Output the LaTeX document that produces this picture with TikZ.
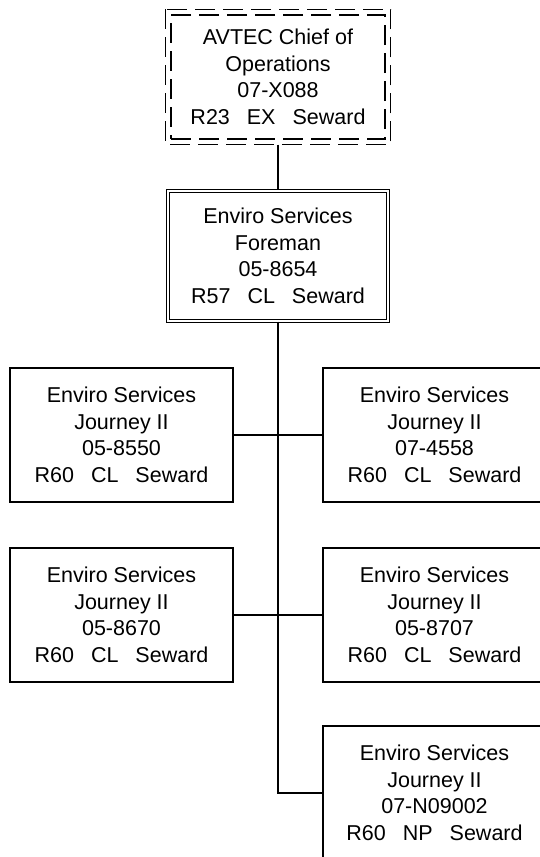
\documentclass[tikz,border=0pt]{standalone}
\usepackage{fontspec}
\setmainfont{Liberation Sans}
\newcommand{\fieldgap}{\hspace{17pt}}

\begin{document}
\begin{tikzpicture}[x=1pt,y=-1pt]

\tikzset{
  post box/.style={
    draw,
    line width=1.3pt,
    minimum width=223pt,
    minimum height=134pt,
    inner sep=0pt,
    align=center,
    font=\fontsize{21.5}{26.5}\selectfont,
  },
  chief box/.style={
    post box,
    dash pattern=on 20pt off 8pt,
    minimum width=214pt,
    minimum height=124pt,
  },
  lead box/.style={
    post box,
    double,
    line width=1.2pt,
    double distance=2.4pt,
    minimum width=220pt,
    minimum height=130pt,
  },
  link/.style={line width=1.3pt},
}

\clip (0,0) rectangle (540,857);

% Level 0
\node[chief box] (chief) at (278,77) {AVTEC Chief of\\Operations\\07-X088\\R23\fieldgap EX\fieldgap Seward};
\draw[line width=1.3pt, dash pattern=on 20pt off 8pt]
  ([xshift=-5pt,yshift=5pt]chief.north west) rectangle ([xshift=5pt,yshift=-5pt]chief.south east);

% Level 1
\node[lead box] (foreman) at (278,256) {Enviro Services\\Foreman\\05-8654\\R57\fieldgap CL\fieldgap Seward};

% Level 2 (two columns either side of the trunk)
\node[post box] (jn1) at (121.5,435) {Enviro Services\\Journey II\\05-8550\\R60\fieldgap CL\fieldgap Seward};
\node[post box] (jn2) at (434.5,435) {Enviro Services\\Journey II\\07-4558\\R60\fieldgap CL\fieldgap Seward};

\node[post box] (jn3) at (121.5,615) {Enviro Services\\Journey II\\05-8670\\R60\fieldgap CL\fieldgap Seward};
\node[post box] (jn4) at (434.5,615) {Enviro Services\\Journey II\\05-8707\\R60\fieldgap CL\fieldgap Seward};

\node[post box] (jn5) at (434.5,793) {Enviro Services\\Journey II\\07-N09002\\R60\fieldgap NP\fieldgap Seward};

% Edges
\draw[link] ([yshift=-5pt]chief.south) -- (foreman.north);

\draw[line width=2.2pt] (foreman.south) -- (foreman.south |- jn3.east);
\draw[link] (foreman.south |- jn3.east) -- (foreman.south |- jn5.west) -- (jn5.west);

\draw[link] (jn1.east) -- (jn2.west);
\draw[link] (jn3.east) -- (jn4.west);

\end{tikzpicture}
\end{document}
